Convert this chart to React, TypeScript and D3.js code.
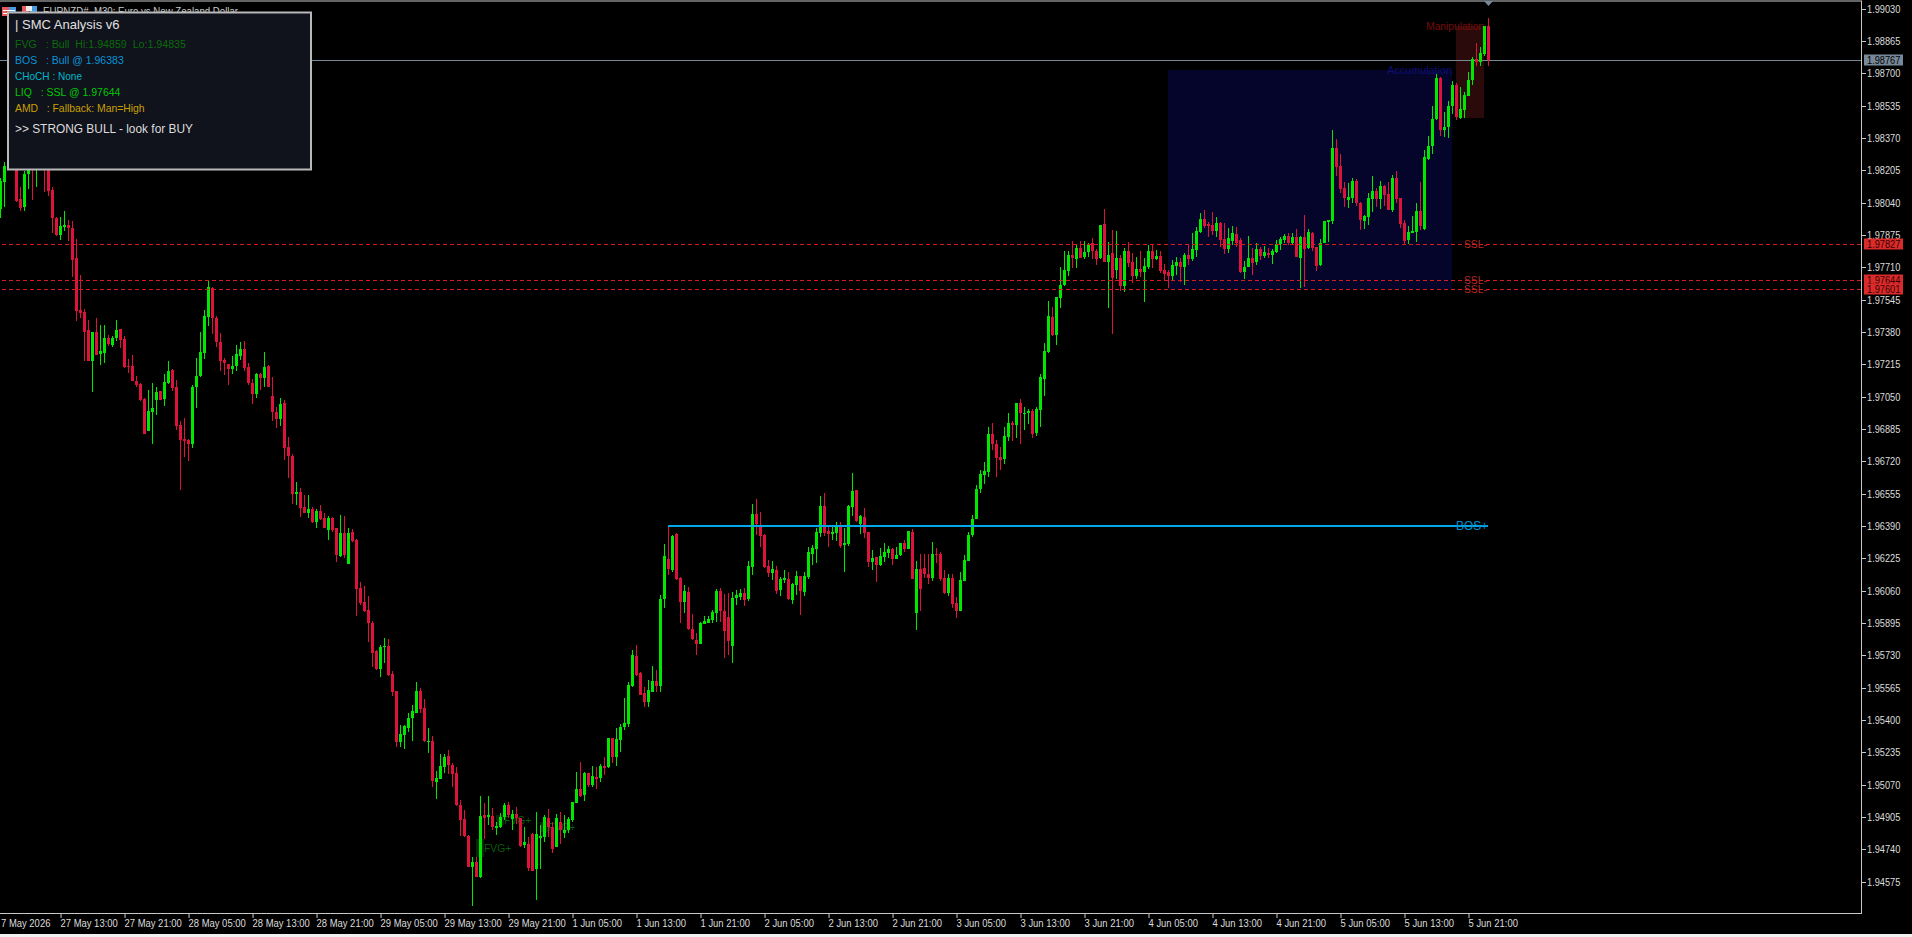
import * as d3 from "d3";
import { useEffect, useRef } from "react";

// EURNZD M30, prices in points (1 point = 0.00001)
const opens = [
  198005,198146,198230,198290,198340,198056,198019,198186,198260,198215,
  198290,198290,198230,198104,197961,197874,197914,197925,197908,197757,
  197490,197482,197388,197234,197380,197269,197274,197348,197314,197348,
  197393,197342,197206,197206,197130,197115,197036,196875,196972,197033,
  197077,197038,197118,197186,197098,196905,196832,196829,196809,197099,
  197154,197274,197458,197603,197451,197327,197237,197215,197191,197206,
  197257,197291,197200,197118,197064,197166,197145,197206,197053,196972,
  196936,197016,196792,196747,196554,196562,196486,196458,196477,196409,
  196465,196430,196370,196431,196378,196236,196352,196196,196357,196318,
  196075,196002,195961,195896,195752,195660,195771,195777,195635,195548,
  195288,195323,195361,195408,195437,195548,195460,195290,195293,195085,
  195101,195162,195215,195169,195128,194966,194893,194808,194652,194677,
  194598,194915,194904,194910,194851,194853,194904,194966,194895,194919,
  194899,194761,194768,194817,194640,194798,194802,194902,194856,194754,
  194882,194822,194839,194890,194978,195046,195017,195128,195068,195111,
  195102,195165,195162,195307,195213,195298,195363,195380,195575,195728,
  195638,195539,195490,195545,195599,195573,196017,196219,196165,196349,
  196124,196004,196051,195862,195808,195789,195890,195896,195910,195947,
  196058,195956,195924,195779,196022,196029,196046,196017,196182,196451,
  196386,196344,196185,196148,196165,196063,196114,196117,196012,196088,
  196134,196053,196129,196247,196274,196355,196491,196364,196349,196355,
  196383,196292,196298,196488,196573,196400,196434,196357,196206,196230,
  196192,196233,196253,196270,196221,196240,196301,196272,196359,195947,
  196168,196175,196145,196126,196247,196247,196122,196048,196124,195995,
  195956,196109,196213,196344,196427,196578,196650,196666,196860,196809,
  196741,196734,196846,196916,196906,197016,196962,196968,196979,196866,
  196982,197140,197278,197458,197364,197555,197618,197691,197772,197754,
  197806,197761,197788,197832,197793,197755,197931,197738,197781,197696,
  197759,197614,197793,197737,197665,197701,197687,197710,197793,197752,
  197767,197696,197686,197665,197716,197735,197711,197772,197752,197798,
  197891,197956,197929,197926,197895,197936,197852,197803,197844,197878,
  197849,197686,197711,197755,197735,197803,197767,197781,197774,197790,
  197829,197849,197869,197832,197863,197755,197866,197806,197886,197813,
  197720,197835,197942,197946,198320,198226,198114,198053,198065,198150,
  198039,197948,197968,198058,198099,198058,198126,198084,198002,198167,
  198063,197937,197849,197883,197892,197997,197903,198260,198328,198464,
  198677,198410,198424,198532,198640,198473,198514,198583,198665,198770,
  198755,198798,198940,
];
const closes = [
  198150,198226,198290,198340,198050,198010,198186,198240,198210,198290,
  198240,198230,198101,197963,197874,197920,197925,197912,197747,197487,
  197475,197381,197234,197380,197264,197283,197348,197319,197348,197388,
  197339,197203,197203,197127,197110,197033,196861,196975,196990,197072,
  197033,197123,197181,197092,196900,196829,196824,196809,197098,197154,
  197278,197461,197608,197450,197329,197232,197220,197193,197206,197268,
  197291,197196,197120,197064,197166,197147,197200,197099,196972,196936,
  197011,196790,196747,196554,196564,196482,196455,196477,196411,196467,
  196424,196382,196431,196370,196242,196352,196242,196355,196315,196068,
  195995,195956,195893,195743,195660,195774,195777,195630,195545,195288,
  195329,195369,195408,195446,195548,195456,195295,195295,195089,195102,
  195165,195213,195170,195125,194966,194890,194810,194652,194674,194601,
  194910,194902,194915,194853,194861,194904,194966,194915,194921,194899,
  194757,194778,194644,194632,194817,194808,194904,194856,194740,194899,
  194839,194839,194893,194980,195046,195012,195128,195068,195114,195097,
  195167,195157,195307,195213,195301,195363,195383,195578,195732,195630,
  195528,195494,195553,195597,195573,196017,196236,196170,196338,196117,
  196004,196056,195862,195811,195788,195893,195905,195913,195952,196060,
  195956,195854,195805,196024,196038,196046,196012,196185,196451,196398,
  196338,196182,196148,196170,196058,196119,196124,196015,196095,196134,
  196058,196134,196258,196275,196359,196491,196352,196349,196359,196391,
  196287,196303,196491,196568,196417,196440,196355,196207,196226,196189,
  196235,196257,196272,196221,196240,196301,196272,196364,196121,196168,
  196068,196145,196126,196247,196243,196121,196048,196124,195993,195954,
  196114,196216,196344,196428,196581,196655,196668,196860,196809,196739,
  196727,196849,196914,196904,197016,196965,196968,196977,196860,196987,
  197152,197283,197461,197364,197557,197620,197696,197772,197755,197806,
  197757,197788,197823,197793,197754,197926,197738,197772,197657,197755,
  197614,197793,197733,197665,197701,197686,197716,197793,197754,197767,
  197691,197676,197665,197721,197737,197713,197772,197754,197803,197895,
  197956,197922,197922,197895,197936,197849,197803,197857,197883,197832,
  197684,197713,197755,197733,197803,197767,197786,197774,197793,197829,
  197854,197869,197835,197863,197764,197866,197803,197891,197810,197716,
  197835,197946,197951,198320,198223,198109,198061,198068,198152,198036,
  197951,197971,198063,198099,198058,198126,198078,198002,198167,198060,
  197931,197844,197890,197897,197997,197920,198272,198328,198466,198677,
  198410,198425,198532,198640,198475,198517,198588,198665,198772,198755,
  198801,198940,198767,
];
const highs = [
  198164,198245,198310,198360,198360,198121,198200,198260,198290,198320,
  198310,198320,198250,198118,197968,197965,197997,197951,197946,197854,
  197669,197495,197441,197381,197449,197415,197415,197364,197361,197441,
  197395,197359,197240,197262,197155,197118,197041,197084,197118,197101,
  197081,197166,197232,197191,197135,196926,196939,196832,197109,197246,
  197381,197492,197645,197608,197463,197373,197246,197217,197257,197312,
  197329,197334,197220,197138,197169,197169,197278,197212,197149,196996,
  197041,197033,196843,196758,196615,196583,196549,196549,196486,196475,
  196498,196455,196441,196438,196378,196446,196440,196378,196372,196321,
  196102,196083,196032,195905,195757,195783,195817,195811,195652,195550,
  195375,195375,195434,195476,195592,195561,195505,195358,195318,195142,
  195225,195227,195247,195179,195162,194992,194941,194814,194703,194703,
  195012,194978,195012,194950,194882,194924,194975,194984,194941,194958,
  194899,194856,194805,194822,194933,194864,194915,194944,194882,194921,
  194933,194915,194907,194984,195137,195184,195137,195131,195165,195162,
  195176,195213,195307,195307,195358,195380,195510,195595,195757,195783,
  195646,195570,195604,195675,195655,196037,196298,196389,196344,196352,
  196128,196088,196077,195939,195842,195902,195932,195930,195961,196066,
  196071,196043,196046,196051,196063,196066,196071,196211,196502,196527,
  196462,196347,196216,196211,196185,196131,196165,196153,196100,196160,
  196134,196153,196284,196293,196377,196542,196556,196383,196383,196408,
  196408,196377,196497,196661,196573,196445,196480,196360,196267,196233,
  196275,196301,196287,196275,196281,196304,196318,196366,196372,196213,
  196247,196245,196247,196306,196275,196257,196165,196145,196145,196029,
  196153,196241,196357,196445,196598,196675,196718,196894,196917,196829,
  196795,196894,196965,196928,197016,197036,196999,196985,196985,196999,
  197164,197322,197538,197506,197560,197710,197793,197793,197844,197823,
  197844,197844,197832,197861,197803,197926,198007,197837,197900,197895,
  197772,197806,197837,197781,197761,197793,197755,197823,197823,197798,
  197793,197727,197696,197747,197761,197755,197781,197829,197883,197917,
  197985,198002,197942,197993,197965,197942,197934,197908,197920,197914,
  197857,197742,197869,197806,197832,197815,197818,197806,197801,197849,
  197866,197878,197883,197883,197903,197869,197977,197903,197891,197815,
  197852,197946,197951,198410,198364,198288,198146,198138,198164,198158,
  198044,197977,198087,198175,198113,198150,198130,198143,198181,198201,
  198065,197951,197920,197971,198036,198143,198308,198379,198532,198696,
  198682,198504,198558,198660,198648,198631,198605,198707,198784,198852,
  198835,198940,198980,
];
const lows = [
  197960,198019,198215,198270,198045,197997,197997,198107,198053,198121,
  198215,198095,198075,197883,197869,197849,197897,197844,197662,197436,
  197453,197234,197232,197075,197262,197211,197223,197310,197302,197336,
  197298,197198,197172,197127,197098,197030,196860,196875,196809,196957,
  197033,197002,197115,197079,196880,196574,196741,196722,196790,196994,
  197149,197240,197410,197370,197305,197181,197160,197109,197166,197183,
  197237,197183,197109,197013,197041,197084,197098,197098,196928,196892,
  196900,196727,196634,196503,196498,196438,196455,196430,196404,196382,
  196421,196378,196316,196361,196208,196233,196225,196196,196310,195932,
  195987,195953,195800,195672,195655,195621,195689,195626,195522,195264,
  195264,195250,195340,195295,195434,195434,195290,195233,195060,194995,
  195097,195128,195123,195060,194961,194810,194805,194649,194451,194598,
  194596,194791,194864,194839,194814,194848,194890,194899,194839,194870,
  194754,194746,194632,194630,194482,194640,194780,194805,194720,194751,
  194768,194797,194822,194881,194975,195006,194987,195060,195060,195046,
  195086,195120,195157,195179,195165,195239,195349,195366,195570,195626,
  195528,195468,195465,195545,195545,195545,195970,196140,196156,196114,
  195893,195944,195859,195808,195732,195788,195890,195893,195893,195901,
  195901,195714,195731,195692,195987,196012,195983,196009,196139,196344,
  196284,196174,196128,196114,196043,196032,196100,196012,195992,196037,
  195935,196032,196119,196190,196199,196335,196340,196284,196318,196313,
  196275,196157,196287,196440,196408,196349,196330,196182,196165,196105,
  196185,196208,196224,196190,196219,196236,196258,196272,196119,195859,
  195958,196122,196094,196111,196202,196111,196041,196034,195969,195922,
  195956,196109,196213,196335,196423,196556,196604,196642,196778,196642,
  196676,196707,196821,196821,196838,196809,196877,196911,196841,196849,
  196897,197053,197274,197359,197313,197504,197614,197665,197704,197704,
  197755,197750,197764,197754,197721,197750,197738,197504,197370,197648,
  197589,197585,197713,197628,197648,197662,197535,197699,197704,197747,
  197679,197645,197603,197645,197670,197637,197620,197721,197742,197764,
  197883,197908,197866,197875,197866,197815,197778,197781,197823,197815,
  197679,197648,197710,197670,197721,197747,197755,197755,197727,197781,
  197798,197832,197823,197823,197761,197602,197608,197801,197795,197693,
  197716,197832,197837,197931,198175,198087,198019,198014,198036,198024,
  197900,197905,197925,197994,198019,198007,198024,198002,197994,198039,
  197909,197824,197829,197883,197840,197900,197900,198257,198288,198461,
  198381,198376,198371,198492,198461,198466,198470,198583,198640,198736,
  198738,198787,198738,
];

const priceTicks = [
  "1.99030","1.98865","1.98700","1.98535","1.98370","1.98205","1.98040",
  "1.97875","1.97710","1.97545","1.97380","1.97215","1.97050","1.96885",
  "1.96720","1.96555","1.96390","1.96225","1.96060","1.95895","1.95730",
  "1.95565","1.95400","1.95235","1.95070","1.94905","1.94740","1.94575",
];
// every 16th bar, starting with bar 15
const timeLabels = [
  "27 May 13:00","27 May 21:00","28 May 05:00","28 May 13:00","28 May 21:00",
  "29 May 05:00","29 May 13:00","29 May 21:00","1 Jun 05:00","1 Jun 13:00","1 Jun 21:00",
  "2 Jun 05:00","2 Jun 13:00","2 Jun 21:00","3 Jun 05:00","3 Jun 13:00","3 Jun 21:00",
  "4 Jun 05:00","4 Jun 13:00","4 Jun 21:00","5 Jun 05:00","5 Jun 13:00","5 Jun 21:00",
];

const bidPrice = 198767;
const sslLevels = [197827, 197644, 197601];
const bosLevel = 196391;
const bosStart = 167;
const zones = [
  { name: "Accumulation", from: 292, to: 363, top: 198715, bottom: 197601, fill: "#05052b", text: "#0e0e78" },
  { name: "Manipulation", from: 364, to: 371, top: 198940, bottom: 198473, fill: "#2a0a0a", text: "#780c0c" },
];
const fvgMarks = [
  { bar: 119, top: 194793, bottom: 194701 },
  { bar: 124, top: 194915, bottom: 194864 },
  { bar: 135, top: 194880, bottom: 194829 },
];
const panelLines = [
  { text: "FVG   : Bull  Hi:1.94859  Lo:1.94835", color: "#0b6b0b", size: 10.65 },
  { text: "BOS   : Bull @ 1.96383", color: "#0a94d8", size: 10.5 },
  { text: "CHoCH : None", color: "#00b8c8", size: 10.05 },
  { text: "LIQ   : SSL @ 1.97644", color: "#00c800", size: 10.5 },
  { text: "AMD   : Fallback: Man=High", color: "#c8a000", size: 10.4 },
];

const plotRight = 1861;
const plotBottom = 913;
const green = "#00e800";
const red = "#dc143c";
const labelFont = "'Liberation Sans', Arial, sans-serif";

export default function App() {
  const ref = useRef<SVGSVGElement>(null);

  useEffect(() => {
    const svg = d3.select(ref.current);
    svg.selectAll("*").remove();

    const x = d3.scaleLinear().domain([0, 372]).range([0, 1488]);
    const y = d3.scaleLinear().domain([194575, 199030]).range([881.7, 8.5]);
    const py = (v: number) => Math.round(y(v));

    svg.append("rect").attr("width", 1912).attr("height", 937).attr("fill", "#000");
    svg.append("rect").attr("y", 934).attr("width", 1912).attr("height", 3).attr("fill", "#f0f0f0");

    // zones behind everything
    zones.forEach((z) => {
      svg.append("rect")
        .attr("x", x(z.from))
        .attr("y", py(z.top))
        .attr("width", x(z.to) - x(z.from))
        .attr("height", py(z.bottom) - py(z.top))
        .attr("fill", z.fill);
      svg.append("text")
        .attr("x", x(z.to))
        .attr("y", py(z.top) + 4)
        .attr("text-anchor", "end")
        .attr("font-family", labelFont)
        .attr("font-size", z.name === "Accumulation" ? 10.8 : 10.2)
        .attr("fill", z.text)
        .text(z.name);
    });

    // FVG marks
    fvgMarks.forEach((f) => {
      svg.append("rect")
        .attr("x", x(f.bar))
        .attr("y", py(f.top))
        .attr("width", 8)
        .attr("height", py(f.bottom) - py(f.top))
        .attr("fill", "#062806");
      svg.append("text")
        .attr("x", x(f.bar) + 8)
        .attr("y", (py(f.top) + py(f.bottom)) / 2 + 4)
        .attr("font-family", labelFont)
        .attr("font-size", 10.3)
        .attr("fill", "#0b5f0b")
        .text("FVG+");
    });

    // bid line
    svg.append("rect")
      .attr("y", py(bidPrice))
      .attr("width", plotRight)
      .attr("height", 1)
      .attr("fill", "#778899");

    // candles
    const bars = d3.range(opens.length);
    const g = svg.append("g");
    g.selectAll("rect.wick")
      .data(bars)
      .join("rect")
      .attr("class", "wick")
      .attr("x", (i) => x(i))
      .attr("y", (i) => py(highs[i]))
      .attr("width", 1)
      .attr("height", (i) => Math.max(1, py(lows[i]) - py(highs[i])))
      .attr("fill", (i) => (closes[i] >= opens[i] ? green : red));
    g.selectAll("rect.body")
      .data(bars)
      .join("rect")
      .attr("class", "body")
      .attr("x", (i) => x(i) - 1)
      .attr("y", (i) => py(Math.max(opens[i], closes[i])))
      .attr("width", 3)
      .attr("height", (i) => Math.max(1, py(Math.min(opens[i], closes[i])) - py(Math.max(opens[i], closes[i]))))
      .attr("fill", (i) => (closes[i] >= opens[i] ? green : red));

    // SSL levels
    sslLevels.forEach((lvl) => {
      svg.append("line")
        .attr("x1", 2)
        .attr("x2", plotRight)
        .attr("y1", py(lvl) + 0.5)
        .attr("y2", py(lvl) + 0.5)
        .attr("stroke", "#d81c1c")
        .attr("stroke-dasharray", "4 3");
      svg.append("text")
        .attr("x", 1464)
        .attr("y", py(lvl) + 4)
        .attr("font-family", labelFont)
        .attr("font-size", 10.3)
        .attr("fill", "#b42828")
        .text("SSL-");
    });

    // BOS line
    svg.append("rect")
      .attr("x", x(bosStart))
      .attr("y", py(bosLevel) - 1)
      .attr("width", x(372) - x(bosStart))
      .attr("height", 2)
      .attr("fill", "#00a8e6");
    svg.append("text")
      .attr("x", 1456)
      .attr("y", py(bosLevel) + 4)
      .attr("font-family", labelFont)
      .attr("font-size", 11.9)
      .attr("fill", "#0090d0")
      .text("BOS+");

    // frame
    svg.append("rect").attr("y", 0.5).attr("width", plotRight + 1).attr("height", 1).attr("fill", "#c8c8c8");
    svg.append("rect").attr("x", plotRight).attr("y", 1).attr("width", 1).attr("height", plotBottom).attr("fill", "#c8c8c8");
    svg.append("rect").attr("y", plotBottom).attr("width", plotRight + 1).attr("height", 1).attr("fill", "#c8c8c8");

    // current bar marker
    svg.append("path")
      .attr("d", d3.line()([[x(372) - 4, 1], [x(372) + 5, 1], [x(372) + 0.5, 6]]) + "Z")
      .attr("fill", "#778899");

    // price axis
    priceTicks.forEach((t) => {
      const ty = Math.round(y(+t * 100000));
      svg.append("rect").attr("x", plotRight).attr("y", ty).attr("width", 5).attr("height", 1).attr("fill", "#c8c8c8");
      svg.append("text")
        .attr("transform", `translate(1867,${ty + 4}) scale(0.84,1)`)
        .attr("font-family", labelFont)
        .attr("font-size", 11)
        .attr("fill", "#dcdcdc")
        .text(t);
    });

    const tag = (lvl: number, fill: string, color: string, cy: number) => {
      svg.append("rect").attr("x", 1864).attr("y", cy - 5.5).attr("width", 39).attr("height", 11).attr("fill", fill);
      svg.append("text")
        .attr("transform", `translate(1867,${cy + 4}) scale(0.84,1)`)
        .attr("font-family", labelFont)
        .attr("font-size", 11)
        .attr("fill", color)
        .text((lvl / 100000).toFixed(5));
    };
    tag(bidPrice, "#778899", "#000", py(bidPrice));
    sslLevels.forEach((lvl) => tag(lvl, "#d92b2b", "#3a0000", py(lvl)));

    // time axis
    svg.append("text")
      .attr("transform", "translate(1,926.5) scale(0.86,1)")
      .attr("font-family", labelFont)
      .attr("font-size", 11)
      .attr("fill", "#dcdcdc")
      .text("7 May 2026");
    timeLabels.forEach((t, k) => {
      const tx = x(15 + k * 16) + 0.5;
      svg.append("rect").attr("x", tx).attr("y", plotBottom).attr("width", 1).attr("height", 5).attr("fill", "#c8c8c8");
      svg.append("text")
        .attr("transform", `translate(${tx},926.5) scale(0.86,1)`)
        .attr("font-family", labelFont)
        .attr("font-size", 11)
        .attr("fill", "#dcdcdc")
        .text(t);
    });

    // chart title, mostly hidden by the panel
    svg.append("text")
      .attr("x", 43)
      .attr("y", 15)
      .attr("font-family", labelFont)
      .attr("font-size", 11)
      .attr("textLength", 195)
      .attr("lengthAdjust", "spacingAndGlyphs")
      .attr("fill", "#c8c8c8")
      .text("EURNZD#, M30: Euro vs New Zealand Dollar");

    // one click trading icons
    svg.append("rect").attr("x", 2).attr("y", 7).attr("width", 7).attr("height", 9).attr("fill", "#e85a5a");
    svg.append("rect").attr("x", 9).attr("y", 7).attr("width", 7).attr("height", 9).attr("fill", "#4a9ae0");
    svg.append("rect").attr("x", 3).attr("y", 10).attr("width", 12).attr("height", 1).attr("fill", "#fff");
    svg.append("rect").attr("x", 3).attr("y", 13).attr("width", 12).attr("height", 1).attr("fill", "#fff");
    svg.append("rect").attr("x", 22).attr("y", 6).attr("width", 7).attr("height", 11).attr("fill", "#e85a5a");
    svg.append("rect").attr("x", 30).attr("y", 6).attr("width", 7).attr("height", 11).attr("fill", "#4a9ae0");
    svg.append("rect").attr("x", 26).attr("y", 6).attr("width", 6).attr("height", 5).attr("fill", "#eee");

    // SMC panel
    svg.append("rect")
      .attr("x", 8)
      .attr("y", 12.5)
      .attr("width", 303)
      .attr("height", 157)
      .attr("fill", "#10121c")
      .attr("stroke", "#b8b8b8")
      .attr("stroke-width", 2);
    svg.append("text")
      .attr("x", 15)
      .attr("y", 29)
      .attr("font-family", labelFont)
      .attr("font-size", 13)
      .attr("fill", "#e0e0e0")
      .text("| SMC Analysis v6");
    panelLines.forEach((l, k) => {
      svg.append("text")
        .attr("x", 15)
        .attr("y", 48 + k * 16)
        .attr("font-family", labelFont)
        .attr("font-size", l.size)
        .attr("fill", l.color)
        .style("white-space", "pre")
        .text(l.text);
    });
    svg.append("text")
      .attr("x", 15)
      .attr("y", 132.5)
      .attr("font-family", labelFont)
      .attr("font-size", 11.9)
      .attr("fill", "#dcdcdc")
      .text(">> STRONG BULL - look for BUY");
  }, []);

  return (
    <svg
      ref={ref}
      width={1912}
      height={937}
      style={{ position: "fixed", left: 0, top: 0, display: "block" }}
    />
  );
}
